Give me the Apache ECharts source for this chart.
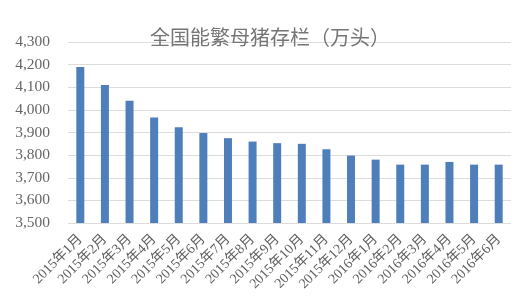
<!DOCTYPE html>
<html><head><meta charset="utf-8">
<script src="https://cdn.jsdelivr.net/npm/echarts@6/dist/echarts.min.js"></script>
<style>html,body{margin:0;padding:0;background:#fff}#c{width:525px;height:305px}</style>
</head><body><div id="c"></div>
<script>
const categories = ['2015年1月','2015年2月','2015年3月','2015年4月','2015年5月','2015年6月','2015年7月','2015年8月','2015年9月','2015年10月','2015年11月','2015年12月','2016年1月','2016年2月','2016年3月','2016年4月','2016年5月','2016年6月'];
const values = [4190, 4110, 4040, 3966, 3923, 3898, 3875, 3860, 3853, 3850, 3826, 3798, 3780, 3758, 3758, 3770, 3758, 3758];
const title = '全国能繁母猪存栏（万头）';
const chart = echarts.init(document.getElementById('c'));
chart.setOption({
  animation: false,
  title: {text: title, left: 265, top: 25, textAlign: 'center',
    textStyle: {fontFamily: 'Liberation Serif, Noto Sans CJK SC', fontSize: 20, fontWeight: 'normal', color: '#757575'}},
  grid: {left: 68, right: 14, top: 42, bottom: 82},
  xAxis: {type: 'category', data: categories,
    axisLine: {show: false}, axisTick: {show: false},
    axisLabel: {rotate: 45, interval: 0, fontFamily: 'Liberation Serif, Noto Sans CJK SC', fontSize: 14, color: '#5f5f5f', margin: 14}},
  yAxis: {type: 'value', min: 3500, max: 4300, interval: 100,
    axisLine: {show: false}, axisTick: {show: false},
    splitLine: {lineStyle: {color: '#dcdcdc'}},
    axisLabel: {fontFamily: 'Liberation Serif', fontSize: 15.5, color: '#666666', margin: 18,
      formatter: v => v.toLocaleString('en-US')}},
  series: [{type: 'bar', data: values, barWidth: 8, itemStyle: {color: '#4f7fba'}}]
});
</script></body></html>
